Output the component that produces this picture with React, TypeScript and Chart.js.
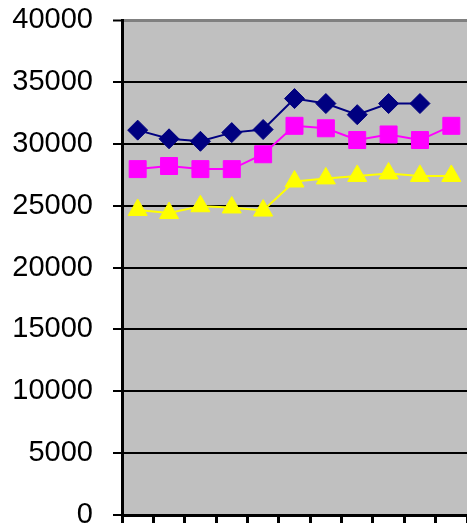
import React, { useEffect, useRef } from "react";
import { Chart, registerables } from "chart.js";

Chart.register(...registerables);

const categories = ["1", "2", "3", "4", "5", "6", "7", "8", "9", "10", "11"];
const seriesNavy = [31100, 30400, 30200, 30900, 31150, 33650, 33250, 32350, 33250, 33250, null];
const seriesMagenta = [27950, 28200, 27950, 27950, 29150, 31450, 31250, 30300, 30750, 30300, 31450];
const seriesYellow = [24650, 24400, 24950, 24850, 24600, 26950, 27200, 27400, 27600, 27400, 27400];
const yTicks = [0, 5000, 10000, 15000, 20000, 25000, 30000, 35000, 40000];

const plotBg = {
  id: "plotBg",
  beforeDraw(chart: any) {
    const { ctx, chartArea } = chart;
    ctx.save();
    ctx.fillStyle = "#C0C0C0";
    ctx.fillRect(chartArea.left, chartArea.top, chartArea.right - chartArea.left, chartArea.bottom - chartArea.top);
    ctx.restore();
  },
};

export default function App() {
  const ref = useRef<HTMLCanvasElement | null>(null);
  useEffect(() => {
    if (!ref.current) return;
    const chart = new Chart(ref.current, {
      type: "line",
      data: {
        labels: categories,
        datasets: [
          {
            data: seriesNavy,
            borderColor: "#000080",
            backgroundColor: "#000080",
            borderWidth: 2,
            pointStyle: "rectRot",
            pointRadius: 10,
            pointBorderWidth: 1,
            tension: 0,
            spanGaps: false,
          },
          {
            data: seriesMagenta,
            borderColor: "#FF00FF",
            backgroundColor: "#FF00FF",
            borderWidth: 2,
            pointStyle: "rect",
            pointRadius: 12,
            pointBorderWidth: 1,
            tension: 0,
          },
          {
            data: seriesYellow,
            borderColor: "#FFFF00",
            backgroundColor: "#FFFF00",
            borderWidth: 2,
            pointStyle: "triangle",
            pointRadius: 11,
            pointBorderWidth: 1,
            tension: 0,
          },
        ],
      },
      options: {
        animation: false,
        responsive: false,
        maintainAspectRatio: false,
        devicePixelRatio: 1,
        layout: { autoPadding: false, padding: { top: 20, right: 0, left: 0, bottom: 0 } },
        plugins: { legend: { display: false }, tooltip: { enabled: false } },
        scales: {
          x: {
            offset: true,
            grid: {
              offset: true,
              drawOnChartArea: false,
              drawTicks: true,
              tickLength: 8,
              tickColor: "#000000",
              tickWidth: 3,
            },
            border: { color: "#000000", width: 3 },
            ticks: { display: false },
            afterFit(scale: any) {
              scale.height = 11;
              scale.paddingLeft = 0;
              scale.paddingRight = 0;
              scale.paddingTop = 0;
              scale.paddingBottom = 0;
            },
          },
          y: {
            min: 0,
            max: 40000,
            afterBuildTicks(scale: any) {
              scale.ticks = yTicks.map((v) => ({ value: v }));
            },
            grid: {
              color: (ctx: any) => (ctx.tick && ctx.tick.value === 40000 ? "#808080" : "#000000"),
              lineWidth: (ctx: any) => (ctx.tick && ctx.tick.value === 40000 ? 3 : 2),
              tickColor: "#000000",
              tickWidth: 2,
              tickLength: 9,
            },
            border: { color: "#000000", width: 3 },
            ticks: {
              color: "#000000",
              padding: 20,
              font: { family: "'Liberation Sans', Arial, sans-serif", size: 29 },
              callback: (v: any) => String(v),
            },
            afterFit(scale: any) {
              scale.width = 122;
              scale.paddingLeft = 0;
              scale.paddingRight = 0;
              scale.paddingTop = 0;
              scale.paddingBottom = 0;
            },
          },
        },
      },
      plugins: [plotBg],
    });
    return () => chart.destroy();
  }, []);
  return (
    <div style={{ position: "absolute", left: 0, top: 0, width: 467, height: 526, overflow: "hidden", background: "#fff" }}>
      <canvas ref={ref} width={467} height={526} style={{ display: "block", width: 467, height: 526 }} />
    </div>
  );
}
